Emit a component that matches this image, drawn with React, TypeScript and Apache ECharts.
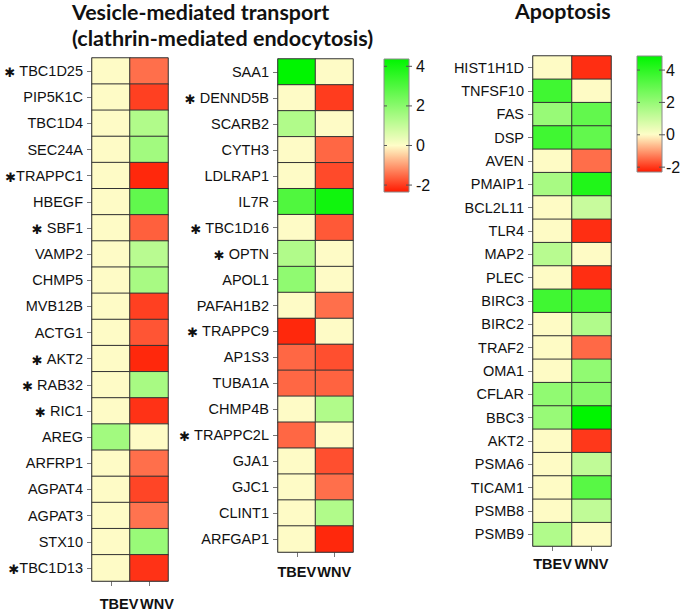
import { useEffect, useRef } from "react";
import * as echarts from "echarts";

const conditions = ["TBEV", "WNV"];

// Vesicle-mediated transport, panel 1 ("*" = significant marker)
const vesicleGenes1 = ["* TBC1D25", "PIP5K1C", "TBC1D4", "SEC24A", "*TRAPPC1", "HBEGF", "* SBF1", "VAMP2", "CHMP5", "MVB12B", "ACTG1", "* AKT2", "* RAB32", "* RIC1", "AREG", "ARFRP1", "AGPAT4", "AGPAT3", "STX10", "*TBC1D13"];
const vesicle1TBEV = [0, 0, 0, 0, 0, 0, 0, 0, 0, 0, 0, 0, 0, 0, 1.6, 0, 0, 0, 0, 0];
const vesicle1WNV = [-1.47, -1.96, 1.35, 1.6, -2.2, 2.7, -1.63, 1.2, 1.5, -1.96, -1.74, -2.2, 1.5, -2.1, 0, -1.47, -1.9, -1.42, 1.75, -2.1];

// Vesicle-mediated transport, panel 2
const vesicleGenes2 = ["SAA1", "* DENND5B", "SCARB2", "CYTH3", "LDLRAP1", "IL7R", "* TBC1D16", "* OPTN", "APOL1", "PAFAH1B2", "* TRAPPC9", "AP1S3", "TUBA1A", "CHMP4B", "* TRAPPC2L", "GJA1", "GJC1", "CLINT1", "ARFGAP1"];
const vesicle2TBEV = [4.37, 0, 1.35, 0, 0, 3.0, 0, 1.35, 1.9, 0, -2.2, -1.55, -1.55, 0, -1.55, 0, 0, 0, 0];
const vesicle2WNV = [0, -2.0, 0, -1.55, -1.85, 4.1, -1.7, 0, 0, -1.47, 0, -1.8, -1.6, 1.35, 0, -1.8, -1.47, 1.35, -2.2];

// Apoptosis
const apoptosisGenes = ["HIST1H1D", "TNFSF10", "FAS", "DSP", "AVEN", "PMAIP1", "BCL2L11", "TLR4", "MAP2", "PLEC", "BIRC3", "BIRC2", "TRAF2", "OMA1", "CFLAR", "BBC3", "AKT2", "PSMA6", "TICAM1", "PSMB8", "PSMB9"];
const apoptosisTBEV = [0, 3.65, 1.97, 3.65, 0, 1.66, 0, 0, 1.36, 0, 3.65, 0, 0, 0, 2.1, 1.97, 0, 0, 0, 0, 1.5];
const apoptosisWNV = [-2.1, 0, 3.0, 3.0, -1.45, 4.25, 1.05, -2.1, 0, -2.1, 3.65, 1.5, -1.5, 2.1, 2.27, 4.87, -2.0, 1.2, 3.2, 1.2, 0];

const colorbarTicks = [4, 2, 0, -2];
const vesicleRange = [-2.35, 4.37];
const apoptosisRange = [-2.3, 4.87];

const RED = [255, 26, 0];
const MID = [255, 253, 200];
const GREEN = [0, 245, 0];

function cmap(v: number, min: number, max: number): string {
  let a: number[], b: number[], t: number;
  if (v <= 0) {
    a = RED; b = MID; t = (v - min) / (0 - min);
  } else {
    a = MID; b = GREEN; t = v / max;
  }
  t = Math.max(0, Math.min(1, t));
  const c = a.map((x, i) => Math.round(x + (b[i] - x) * t));
  return "rgb(" + c.join(",") + ")";
}

function colorList(min: number, max: number, n = 80): string[] {
  const out: string[] = [];
  for (let i = 0; i < n; i++) out.push(cmap(min + ((max - min) * i) / (n - 1), min, max));
  return out;
}

function toData(a: number[], b: number[]) {
  const d: number[][] = [];
  a.forEach((v, i) => d.push([0, i, v]));
  b.forEach((v, i) => d.push([1, i, v]));
  return d;
}

const labelFont = "Arial, 'Liberation Sans', sans-serif";

function fmt(name: string) {
  if (name.startsWith("*")) return "{a|✱}" + name.slice(1);
  return name;
}

function yAxisFor(gi: number, names: string[]) {
  return {
    type: "category",
    gridIndex: gi,
    data: names,
    inverse: true,
    axisLine: { show: true, lineStyle: { color: "#a0a0a0", width: 1.5 } },
    axisTick: { show: true, alignWithLabel: true, length: 5, lineStyle: { color: "#777" } },
    axisLabel: {
      interval: 0,
      color: "#111",
      fontSize: 14.5,
      fontFamily: labelFont,
      margin: 9,
      formatter: fmt,
      rich: { a: { fontSize: 13, fontFamily: "'DejaVu Sans'", color: "#111", padding: [3, 0, 0, 0] } },
    },
    splitLine: { show: false },
  };
}

function xAxisFor(gi: number, margin: number, padLeft: number) {
  return {
    type: "category",
    gridIndex: gi,
    data: conditions,
    position: "bottom",
    axisLine: { show: true, lineStyle: { color: "#a0a0a0", width: 1.5 } },
    axisTick: { show: true, alignWithLabel: true, length: 5, lineStyle: { color: "#777" } },
    axisLabel: {
      interval: 0,
      hideOverlap: false,
      color: "#111",
      fontSize: 14.5,
      fontWeight: "bold",
      fontFamily: labelFont,
      margin,
      padding: [0, 0, 0, padLeft],
    },
    splitLine: { show: false },
  };
}

function colorbar(x: number, y: number, w: number, h: number, range: number[], labelX: number) {
  const [min, max] = range;
  const stops: { offset: number; color: string }[] = [];
  const n = 40;
  for (let i = 0; i <= n; i++) {
    const off = i / n;
    stops.push({ offset: off, color: cmap(max - (max - min) * off, min, max) });
  }
  const els: any[] = [
    {
      type: "rect",
      shape: { x, y, width: w, height: h },
      style: { fill: new echarts.graphic.LinearGradient(0, 0, 0, 1, stops), stroke: "#8a8a8a", lineWidth: 1 },
    },
  ];
  colorbarTicks.forEach((t) => {
    const ty = y + ((max - t) / (max - min)) * h;
    els.push({ type: "line", shape: { x1: x, y1: ty, x2: x + 3, y2: ty }, style: { stroke: "#555", lineWidth: 1 } });
    els.push({ type: "line", shape: { x1: x + w - 3, y1: ty, x2: x + w + 3, y2: ty }, style: { stroke: "#555", lineWidth: 1 } });
    els.push({
      type: "text",
      x: labelX,
      y: ty,
      style: { text: String(t), font: "16px " + labelFont, fill: "#111", textAlign: "left", textVerticalAlign: "middle" },
    });
  });
  return els;
}

export default function App() {
  const ref = useRef<HTMLDivElement>(null);
  useEffect(() => {
    if (!ref.current) return;
    const chart = echarts.init(ref.current, undefined, { renderer: "svg" });
    const titleFont = "bold 20px Lato, 'Open Sans', sans-serif";
    const heatStyle = { borderColor: "#333", borderWidth: 1 };
    chart.setOption({
      animation: false,
      backgroundColor: "#fff",
      grid: [
        { left: 92, top: 58, width: 76, height: 525 },
        { left: 278, top: 59, width: 75, height: 493 },
        { left: 533, top: 56, width: 78, height: 490 },
      ],
      xAxis: [xAxisFor(0, 15, 16), xAxisFor(1, 12, 0), xAxisFor(2, 10, 0)],
      yAxis: [yAxisFor(0, vesicleGenes1), yAxisFor(1, vesicleGenes2), yAxisFor(2, apoptosisGenes)],
      visualMap: [
        { type: "continuous", show: false, seriesIndex: [0, 1], dimension: 2, min: vesicleRange[0], max: vesicleRange[1], inRange: { color: colorList(vesicleRange[0], vesicleRange[1]) } },
        { type: "continuous", show: false, seriesIndex: [2], dimension: 2, min: apoptosisRange[0], max: apoptosisRange[1], inRange: { color: colorList(apoptosisRange[0], apoptosisRange[1]) } },
      ],
      series: [
        { type: "heatmap", xAxisIndex: 0, yAxisIndex: 0, data: toData(vesicle1TBEV, vesicle1WNV), itemStyle: heatStyle },
        { type: "heatmap", xAxisIndex: 1, yAxisIndex: 1, data: toData(vesicle2TBEV, vesicle2WNV), itemStyle: heatStyle },
        { type: "heatmap", xAxisIndex: 2, yAxisIndex: 2, data: toData(apoptosisTBEV, apoptosisWNV), itemStyle: heatStyle },
      ],
      graphic: [
        { type: "text", x: 72, y: 12, scaleX: 1.07, style: { text: "Vesicle-mediated transport", font: titleFont, fill: "#111", textVerticalAlign: "middle" } },
        { type: "text", x: 72, y: 38, scaleX: 1.08, style: { text: "(clathrin-mediated endocytosis)", font: titleFont, fill: "#111", textVerticalAlign: "middle" } },
        { type: "text", x: 515, y: 11, scaleX: 1.07, style: { text: "Apoptosis", font: titleFont, fill: "#111", textVerticalAlign: "middle" } },
        ...colorbar(384, 59, 25, 133, vesicleRange, 416),
        ...colorbar(637, 56, 25, 116, apoptosisRange, 666),
      ],
    });
    return () => chart.dispose();
  }, []);
  return <div ref={ref} style={{ position: "fixed", left: 0, top: 0, width: 685, height: 611 }} />;
}
